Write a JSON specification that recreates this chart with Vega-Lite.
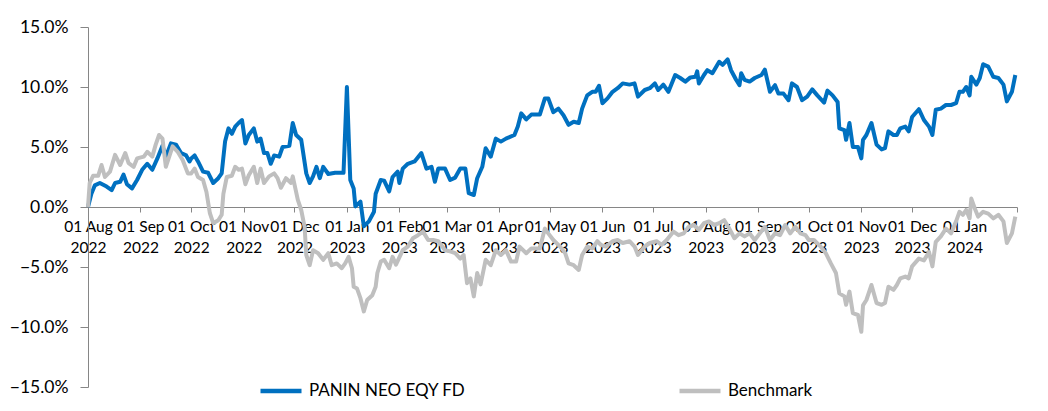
{
  "$schema": "https://vega.github.io/schema/vega-lite/v6.json",
  "width": 929,
  "height": 360,
  "autosize": {"type": "none"},
  "padding": {"left": 88, "top": 27, "right": 31, "bottom": 24},
  "background": "white",
  "config": {
    "view": {"stroke": null},
    "font": "Lato",
    "axis": {"domainColor": "#868686", "tickColor": "#868686", "labelColor": "#000000", "labelFont": "Lato", "grid": false, "title": null}
  },
  "datasets": {
    "fund": [
      {"date":"2022-08-01","value":0},{"date":"2022-08-03","value":1.1},{"date":"2022-08-05","value":1.8},{"date":"2022-08-08","value":2.0},{"date":"2022-08-12","value":1.7},{"date":"2022-08-15","value":1.4},{"date":"2022-08-17","value":2.0},{"date":"2022-08-20","value":2.1},{"date":"2022-08-22","value":2.7},{"date":"2022-08-24","value":1.9},{"date":"2022-08-27","value":1.55},{"date":"2022-08-30","value":2.25},
      {"date":"2022-09-02","value":3.1},{"date":"2022-09-05","value":3.6},{"date":"2022-09-08","value":3.1},{"date":"2022-09-11","value":4.05},{"date":"2022-09-14","value":5.1},{"date":"2022-09-16","value":4.2},{"date":"2022-09-19","value":5.3},{"date":"2022-09-22","value":5.2},{"date":"2022-09-25","value":4.5},{"date":"2022-09-28","value":4.3},{"date":"2022-09-30","value":3.8},
      {"date":"2022-10-01","value":4.05},{"date":"2022-10-03","value":4.3},{"date":"2022-10-05","value":3.8},{"date":"2022-10-08","value":2.95},{"date":"2022-10-11","value":2.85},{"date":"2022-10-14","value":2.0},{"date":"2022-10-17","value":2.4},{"date":"2022-10-19","value":2.8},{"date":"2022-10-21","value":5.45},{"date":"2022-10-23","value":6.55},{"date":"2022-10-25","value":6.1},{"date":"2022-10-27","value":6.7},{"date":"2022-10-29","value":7.0},{"date":"2022-10-31","value":7.25},
      {"date":"2022-11-02","value":5.3},{"date":"2022-11-04","value":6.0},{"date":"2022-11-07","value":6.55},{"date":"2022-11-09","value":5.45},{"date":"2022-11-11","value":5.7},{"date":"2022-11-13","value":4.5},{"date":"2022-11-15","value":4.5},{"date":"2022-11-17","value":3.6},{"date":"2022-11-19","value":4.3},{"date":"2022-11-22","value":4.2},{"date":"2022-11-24","value":5.0},{"date":"2022-11-28","value":5.1},{"date":"2022-11-30","value":7.0},
      {"date":"2022-12-02","value":6.0},{"date":"2022-12-05","value":5.6},{"date":"2022-12-08","value":2.8},{"date":"2022-12-10","value":2.0},{"date":"2022-12-12","value":2.55},{"date":"2022-12-14","value":3.35},{"date":"2022-12-16","value":2.4},{"date":"2022-12-18","value":3.35},{"date":"2022-12-21","value":2.75},{"date":"2022-12-25","value":2.85},{"date":"2022-12-30","value":2.85},
      {"date":"2023-01-01","value":10.0},{"date":"2023-01-03","value":2.25},{"date":"2023-01-05","value":1.55},{"date":"2023-01-06","value":0.05},{"date":"2023-01-09","value":0.45},{"date":"2023-01-11","value":-1.6},{"date":"2023-01-14","value":-1.2},{"date":"2023-01-17","value":-0.4},{"date":"2023-01-18","value":1.1},{"date":"2023-01-21","value":2.25},{"date":"2023-01-23","value":2.2},{"date":"2023-01-26","value":1.3},{"date":"2023-01-28","value":2.5},{"date":"2023-01-31","value":2.95},
      {"date":"2023-02-01","value":2.0},{"date":"2023-02-03","value":3.2},{"date":"2023-02-06","value":3.6},{"date":"2023-02-10","value":3.8},{"date":"2023-02-14","value":4.5},{"date":"2023-02-17","value":3.2},{"date":"2023-02-20","value":3.35},{"date":"2023-02-22","value":2.1},{"date":"2023-02-24","value":3.2},{"date":"2023-02-28","value":3.2},
      {"date":"2023-03-03","value":2.25},{"date":"2023-03-06","value":2.45},{"date":"2023-03-09","value":3.2},{"date":"2023-03-12","value":3.2},{"date":"2023-03-14","value":1.15},{"date":"2023-03-17","value":1.0},{"date":"2023-03-19","value":2.4},{"date":"2023-03-22","value":3.35},{"date":"2023-03-24","value":4.9},{"date":"2023-03-27","value":4.2},{"date":"2023-03-30","value":5.7},
      {"date":"2023-04-02","value":5.45},{"date":"2023-04-05","value":5.7},{"date":"2023-04-10","value":6.0},{"date":"2023-04-12","value":6.7},{"date":"2023-04-14","value":7.8},{"date":"2023-04-17","value":7.3},{"date":"2023-04-20","value":7.7},{"date":"2023-04-25","value":7.7},{"date":"2023-04-28","value":9.05},{"date":"2023-04-30","value":9.05},
      {"date":"2023-05-03","value":7.9},{"date":"2023-05-06","value":8.2},{"date":"2023-05-09","value":7.65},{"date":"2023-05-12","value":6.85},{"date":"2023-05-15","value":7.1},{"date":"2023-05-18","value":7.0},{"date":"2023-05-20","value":8.2},{"date":"2023-05-23","value":9.3},{"date":"2023-05-26","value":9.6},{"date":"2023-05-28","value":9.6},{"date":"2023-05-30","value":10.1},
      {"date":"2023-06-01","value":8.65},{"date":"2023-06-04","value":9.05},{"date":"2023-06-07","value":9.6},{"date":"2023-06-10","value":9.9},{"date":"2023-06-13","value":10.3},{"date":"2023-06-17","value":10.2},{"date":"2023-06-20","value":10.3},{"date":"2023-06-22","value":9.2},{"date":"2023-06-26","value":9.75},{"date":"2023-06-29","value":9.9},
      {"date":"2023-07-02","value":10.3},{"date":"2023-07-04","value":9.75},{"date":"2023-07-07","value":10.2},{"date":"2023-07-10","value":9.6},{"date":"2023-07-14","value":11.0},{"date":"2023-07-17","value":10.75},{"date":"2023-07-20","value":10.45},{"date":"2023-07-23","value":10.8},{"date":"2023-07-26","value":10.85},{"date":"2023-07-27","value":11.3},{"date":"2023-07-28","value":10.3},{"date":"2023-07-31","value":11.0},
      {"date":"2023-08-02","value":11.4},{"date":"2023-08-05","value":11.15},{"date":"2023-08-09","value":12.1},{"date":"2023-08-11","value":11.85},{"date":"2023-08-14","value":12.3},{"date":"2023-08-16","value":11.4},{"date":"2023-08-19","value":10.6},{"date":"2023-08-21","value":10.15},{"date":"2023-08-22","value":11.15},{"date":"2023-08-24","value":10.6},{"date":"2023-08-27","value":10.45},{"date":"2023-08-30","value":10.75},
      {"date":"2023-09-03","value":11.0},{"date":"2023-09-05","value":11.45},{"date":"2023-09-08","value":9.6},{"date":"2023-09-11","value":10.15},{"date":"2023-09-13","value":9.45},{"date":"2023-09-16","value":9.45},{"date":"2023-09-19","value":8.9},{"date":"2023-09-21","value":10.3},{"date":"2023-09-24","value":10.0},{"date":"2023-09-27","value":8.9},{"date":"2023-09-30","value":9.2},
      {"date":"2023-10-03","value":9.8},{"date":"2023-10-06","value":9.3},{"date":"2023-10-10","value":8.7},{"date":"2023-10-12","value":9.7},{"date":"2023-10-15","value":9.3},{"date":"2023-10-18","value":8.75},{"date":"2023-10-19","value":6.55},{"date":"2023-10-22","value":6.4},{"date":"2023-10-23","value":5.6},{"date":"2023-10-25","value":7.0},{"date":"2023-10-27","value":5.0},{"date":"2023-10-30","value":5.0},
      {"date":"2023-11-01","value":4.05},{"date":"2023-11-02","value":5.6},{"date":"2023-11-04","value":6.0},{"date":"2023-11-07","value":7.0},{"date":"2023-11-10","value":5.2},{"date":"2023-11-13","value":4.8},{"date":"2023-11-15","value":4.9},{"date":"2023-11-17","value":6.3},{"date":"2023-11-20","value":6.0},{"date":"2023-11-22","value":6.0},{"date":"2023-11-24","value":6.55},{"date":"2023-11-27","value":6.7},{"date":"2023-11-29","value":6.3},
      {"date":"2023-12-01","value":7.5},{"date":"2023-12-05","value":8.15},{"date":"2023-12-08","value":7.25},{"date":"2023-12-11","value":6.7},{"date":"2023-12-13","value":6.0},{"date":"2023-12-15","value":8.1},{"date":"2023-12-18","value":8.2},{"date":"2023-12-21","value":8.5},{"date":"2023-12-24","value":8.5},{"date":"2023-12-27","value":8.65},{"date":"2023-12-29","value":9.6},{"date":"2023-12-31","value":9.6},
      {"date":"2024-01-02","value":10.0},{"date":"2024-01-04","value":9.3},{"date":"2024-01-05","value":10.85},{"date":"2024-01-08","value":10.2},{"date":"2024-01-10","value":10.75},{"date":"2024-01-12","value":11.9},{"date":"2024-01-15","value":11.7},{"date":"2024-01-18","value":10.85},{"date":"2024-01-21","value":10.75},{"date":"2024-01-24","value":10.2},{"date":"2024-01-26","value":8.8},{"date":"2024-01-29","value":9.6},{"date":"2024-01-31","value":11.0}
    ],
    "benchmark": [
      {"date":"2022-08-01","value":0},{"date":"2022-08-02","value":2.0},{"date":"2022-08-04","value":2.6},{"date":"2022-08-07","value":2.6},{"date":"2022-08-09","value":3.5},{"date":"2022-08-11","value":2.5},{"date":"2022-08-14","value":2.95},{"date":"2022-08-17","value":4.35},{"date":"2022-08-20","value":3.5},{"date":"2022-08-23","value":4.5},{"date":"2022-08-25","value":3.65},{"date":"2022-08-28","value":3.35},{"date":"2022-08-30","value":4.05},
      {"date":"2022-09-03","value":4.2},{"date":"2022-09-05","value":4.6},{"date":"2022-09-08","value":4.2},{"date":"2022-09-10","value":5.2},{"date":"2022-09-12","value":6.0},{"date":"2022-09-14","value":5.7},{"date":"2022-09-16","value":3.35},{"date":"2022-09-18","value":4.2},{"date":"2022-09-20","value":5.05},{"date":"2022-09-23","value":4.6},{"date":"2022-09-26","value":3.9},{"date":"2022-09-29","value":2.8},
      {"date":"2022-10-01","value":2.8},{"date":"2022-10-03","value":3.2},{"date":"2022-10-05","value":2.5},{"date":"2022-10-08","value":2.25},{"date":"2022-10-10","value":1.25},{"date":"2022-10-12","value":-0.5},{"date":"2022-10-14","value":-1.35},{"date":"2022-10-17","value":-1.1},{"date":"2022-10-19","value":-0.65},{"date":"2022-10-20","value":1.1},{"date":"2022-10-22","value":2.5},{"date":"2022-10-25","value":2.6},{"date":"2022-10-27","value":3.35},{"date":"2022-10-29","value":3.1},{"date":"2022-10-31","value":3.2},
      {"date":"2022-11-02","value":1.9},{"date":"2022-11-04","value":2.65},{"date":"2022-11-07","value":3.35},{"date":"2022-11-09","value":2.0},{"date":"2022-11-11","value":3.2},{"date":"2022-11-13","value":2.0},{"date":"2022-11-16","value":2.55},{"date":"2022-11-19","value":2.8},{"date":"2022-11-21","value":2.4},{"date":"2022-11-23","value":1.6},{"date":"2022-11-26","value":2.4},{"date":"2022-11-29","value":2.0},{"date":"2022-11-30","value":2.55},
      {"date":"2022-12-03","value":0.6},{"date":"2022-12-05","value":-0.25},{"date":"2022-12-07","value":-1.65},{"date":"2022-12-08","value":-4.0},{"date":"2022-12-10","value":-4.85},{"date":"2022-12-12","value":-3.6},{"date":"2022-12-15","value":-3.85},{"date":"2022-12-18","value":-4.4},{"date":"2022-12-21","value":-3.85},{"date":"2022-12-23","value":-4.85},{"date":"2022-12-26","value":-4.7},{"date":"2022-12-29","value":-5.1},{"date":"2022-12-31","value":-4.7},
      {"date":"2023-01-02","value":-4.15},{"date":"2023-01-04","value":-5.1},{"date":"2023-01-05","value":-6.65},{"date":"2023-01-07","value":-6.8},{"date":"2023-01-09","value":-7.6},{"date":"2023-01-11","value":-8.7},{"date":"2023-01-13","value":-7.75},{"date":"2023-01-16","value":-7.35},{"date":"2023-01-18","value":-6.65},{"date":"2023-01-19","value":-5.5},{"date":"2023-01-21","value":-4.55},{"date":"2023-01-23","value":-4.4},{"date":"2023-01-26","value":-5.1},{"date":"2023-01-28","value":-4.15},{"date":"2023-01-30","value":-4.8},
      {"date":"2023-02-01","value":-4.2},{"date":"2023-02-03","value":-3.6},{"date":"2023-02-06","value":-3.3},{"date":"2023-02-09","value":-2.6},{"date":"2023-02-12","value":-2.35},{"date":"2023-02-15","value":-2.05},{"date":"2023-02-18","value":-2.75},{"date":"2023-02-21","value":-2.75},{"date":"2023-02-24","value":-2.85},{"date":"2023-02-28","value":-3.6},
      {"date":"2023-03-03","value":-3.7},{"date":"2023-03-06","value":-3.85},{"date":"2023-03-09","value":-4.3},{"date":"2023-03-11","value":-4.0},{"date":"2023-03-13","value":-6.35},{"date":"2023-03-15","value":-5.95},{"date":"2023-03-17","value":-7.45},{"date":"2023-03-19","value":-5.5},{"date":"2023-03-21","value":-6.45},{"date":"2023-03-24","value":-4.4},{"date":"2023-03-27","value":-4.85},{"date":"2023-03-30","value":-3.6},
      {"date":"2023-04-02","value":-4.0},{"date":"2023-04-05","value":-3.6},{"date":"2023-04-08","value":-4.55},{"date":"2023-04-11","value":-4.55},{"date":"2023-04-13","value":-3.3},{"date":"2023-04-17","value":-3.85},{"date":"2023-04-20","value":-3.45},{"date":"2023-04-25","value":-3.45},{"date":"2023-04-28","value":-1.8},{"date":"2023-04-30","value":-2.2},
      {"date":"2023-05-03","value":-2.75},{"date":"2023-05-07","value":-3.3},{"date":"2023-05-10","value":-3.85},{"date":"2023-05-12","value":-4.7},{"date":"2023-05-15","value":-4.85},{"date":"2023-05-18","value":-5.25},{"date":"2023-05-20","value":-4.0},{"date":"2023-05-23","value":-3.3},{"date":"2023-05-26","value":-3.45},{"date":"2023-05-29","value":-2.85},{"date":"2023-05-31","value":-3.15},
      {"date":"2023-06-03","value":-3.3},{"date":"2023-06-07","value":-2.85},{"date":"2023-06-10","value":-2.75},{"date":"2023-06-13","value":-3.0},{"date":"2023-06-17","value":-2.85},{"date":"2023-06-20","value":-3.3},{"date":"2023-06-22","value":-4.0},{"date":"2023-06-26","value":-3.3},{"date":"2023-06-29","value":-3.0},
      {"date":"2023-07-03","value":-2.85},{"date":"2023-07-06","value":-3.15},{"date":"2023-07-09","value":-2.75},{"date":"2023-07-13","value":-2.05},{"date":"2023-07-16","value":-2.35},{"date":"2023-07-19","value":-2.2},{"date":"2023-07-22","value":-1.65},{"date":"2023-07-25","value":-1.5},{"date":"2023-07-28","value":-1.9},{"date":"2023-07-31","value":-1.35},
      {"date":"2023-08-03","value":-1.2},{"date":"2023-08-06","value":-1.5},{"date":"2023-08-09","value":-1.35},{"date":"2023-08-12","value":-1.1},{"date":"2023-08-15","value":-1.8},{"date":"2023-08-18","value":-2.6},{"date":"2023-08-21","value":-2.2},{"date":"2023-08-24","value":-2.45},{"date":"2023-08-27","value":-2.2},{"date":"2023-08-30","value":-2.75},
      {"date":"2023-09-02","value":-2.2},{"date":"2023-09-05","value":-1.65},{"date":"2023-09-08","value":-2.75},{"date":"2023-09-11","value":-2.2},{"date":"2023-09-14","value":-2.35},{"date":"2023-09-17","value":-1.5},{"date":"2023-09-20","value":-2.2},{"date":"2023-09-23","value":-1.65},{"date":"2023-09-26","value":-2.2},{"date":"2023-09-29","value":-2.35},
      {"date":"2023-10-01","value":-2.75},{"date":"2023-10-04","value":-2.75},{"date":"2023-10-08","value":-3.3},{"date":"2023-10-11","value":-3.85},{"date":"2023-10-14","value":-4.7},{"date":"2023-10-17","value":-5.5},{"date":"2023-10-19","value":-7.2},{"date":"2023-10-22","value":-7.45},{"date":"2023-10-23","value":-8.15},{"date":"2023-10-25","value":-7.05},{"date":"2023-10-27","value":-8.85},{"date":"2023-10-30","value":-9.0},
      {"date":"2023-11-01","value":-10.4},{"date":"2023-11-02","value":-8.2},{"date":"2023-11-04","value":-7.75},{"date":"2023-11-07","value":-6.5},{"date":"2023-11-10","value":-8.0},{"date":"2023-11-13","value":-8.15},{"date":"2023-11-15","value":-8.0},{"date":"2023-11-17","value":-6.65},{"date":"2023-11-20","value":-6.9},{"date":"2023-11-22","value":-6.5},{"date":"2023-11-24","value":-5.95},{"date":"2023-11-27","value":-5.8},{"date":"2023-11-29","value":-5.95},
      {"date":"2023-12-01","value":-4.95},{"date":"2023-12-05","value":-4.3},{"date":"2023-12-08","value":-4.45},{"date":"2023-12-11","value":-3.75},{"date":"2023-12-13","value":-4.95},{"date":"2023-12-15","value":-2.9},{"date":"2023-12-18","value":-2.45},{"date":"2023-12-21","value":-1.8},{"date":"2023-12-24","value":-2.2},{"date":"2023-12-27","value":-1.2},{"date":"2023-12-29","value":-0.4},{"date":"2023-12-31","value":-0.65},
      {"date":"2024-01-02","value":-0.25},{"date":"2024-01-04","value":-0.95},{"date":"2024-01-05","value":0.7},{"date":"2024-01-07","value":-0.1},{"date":"2024-01-09","value":-0.8},{"date":"2024-01-12","value":-0.4},{"date":"2024-01-15","value":-0.55},{"date":"2024-01-18","value":-0.95},{"date":"2024-01-21","value":-0.65},{"date":"2024-01-24","value":-1.2},{"date":"2024-01-26","value":-3.0},{"date":"2024-01-29","value":-2.2},{"date":"2024-01-31","value":-0.8}
    ]
  },
  "layer": [
    {
      "data": {"name": "fund"},
      "mark": {"type": "line", "strokeWidth": 4, "strokeJoin": "round"},
      "encoding": {
        "x": {
          "field": "date", "type": "temporal",
          "scale": {"type": "utc", "domain": [{"year": 2022, "month": 8, "date": 1, "utc": true}, {"year": 2024, "month": 2, "date": 1, "utc": true}]},
          "axis": {
            "orient": "bottom", "offset": -180, "tickSize": 5, "labelPadding": 7, "labelFontSize": 15.5, "labelLineHeight": 21, "labelAlign": "center", "labelBaseline": "top",
            "labelOverlap": false, "labelFlush": false,
            "values": [
              {"year": 2022, "month": 8, "date": 1, "utc": true}, {"year": 2022, "month": 9, "date": 1, "utc": true}, {"year": 2022, "month": 10, "date": 1, "utc": true}, {"year": 2022, "month": 11, "date": 1, "utc": true}, {"year": 2022, "month": 12, "date": 1, "utc": true},
              {"year": 2023, "month": 1, "date": 1, "utc": true}, {"year": 2023, "month": 2, "date": 1, "utc": true}, {"year": 2023, "month": 3, "date": 1, "utc": true}, {"year": 2023, "month": 4, "date": 1, "utc": true}, {"year": 2023, "month": 5, "date": 1, "utc": true}, {"year": 2023, "month": 6, "date": 1, "utc": true},
              {"year": 2023, "month": 7, "date": 1, "utc": true}, {"year": 2023, "month": 8, "date": 1, "utc": true}, {"year": 2023, "month": 9, "date": 1, "utc": true}, {"year": 2023, "month": 10, "date": 1, "utc": true}, {"year": 2023, "month": 11, "date": 1, "utc": true}, {"year": 2023, "month": 12, "date": 1, "utc": true},
              {"year": 2024, "month": 1, "date": 1, "utc": true}, {"year": 2024, "month": 2, "date": 1, "utc": true}
            ],
            "labelExpr": "utcFormat(datum.value, '%Y-%m') == '2024-02' ? '' : [utcFormat(datum.value, '%d %b'), utcFormat(datum.value, '%Y')]"
          }
        },
        "y": {
          "field": "value", "type": "quantitative",
          "scale": {"domain": [-15, 15], "nice": false, "zero": false},
          "axis": {"values": [-15, -10, -5, 0, 5, 10, 15], "tickSize": 8, "labelPadding": 12, "labelFontSize": 17.5, "labelExpr": "format(datum.value, '.1f') + '%'"}
        },
        "color": {
          "datum": "PANIN NEO EQY FD",
          "scale": {"domain": ["PANIN NEO EQY FD", "Benchmark"], "range": ["#0070C0", "#BFBFBF"]},
          "legend": {
            "title": null, "orient": "none", "legendX": 170, "legendY": 341, "direction": "horizontal",
            "symbolType": "stroke", "symbolSize": 1681, "symbolStrokeWidth": 4.5,
            "labelFontSize": 17, "labelFont": "Lato", "labelColor": "#000000", "labelOffset": 5,
            "columnPadding": 204, "padding": 0
          }
        }
      }
    },
    {
      "data": {"name": "benchmark"},
      "mark": {"type": "line", "strokeWidth": 4, "strokeJoin": "round"},
      "encoding": {
        "x": {"field": "date", "type": "temporal"},
        "y": {"field": "value", "type": "quantitative"},
        "color": {"datum": "Benchmark"}
      }
    }
  ]
}
